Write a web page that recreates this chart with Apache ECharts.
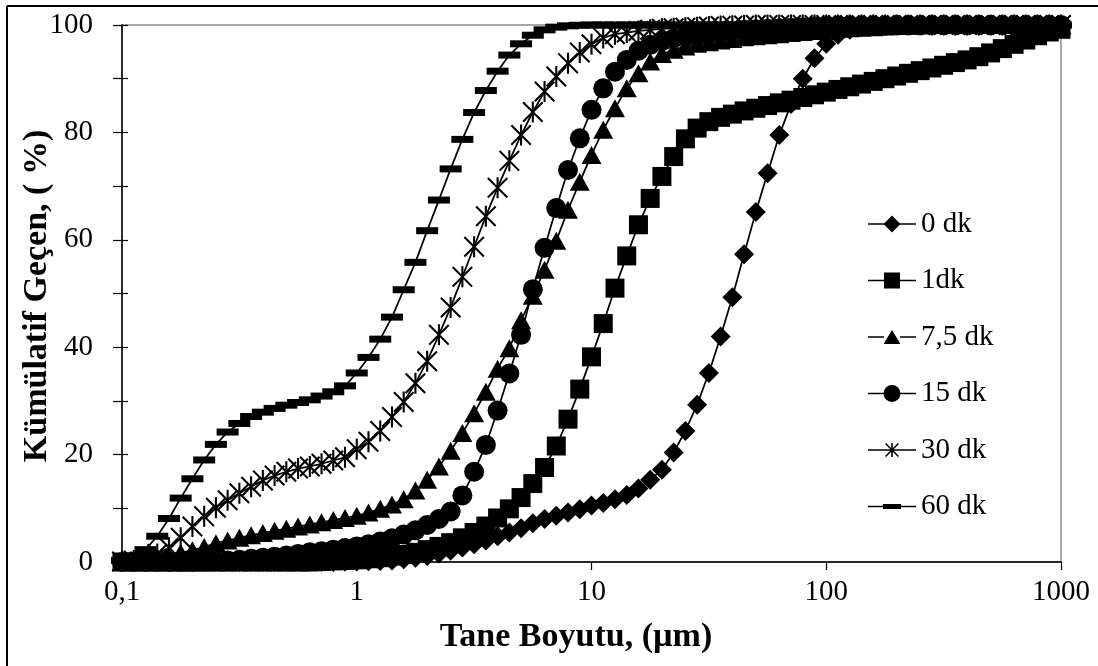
<!DOCTYPE html>
<html>
<head>
<meta charset="utf-8">
<title>Kümülatif Geçen</title>
<script src="https://cdn.jsdelivr.net/npm/echarts@6.0.0/dist/echarts.min.js"></script>
<style>
  html, body { margin: 0; padding: 0; background: #fff; }
  #chart { width: 1098px; height: 666px; }
</style>
</head>
<body>
<div id="chart"></div>
<script>
// Particle size classes (µm), 20 classes per decade
const sizes = [
  0.1, 0.1122, 0.1259, 0.1413, 0.1585, 0.1778, 0.1995, 0.2239, 0.2512, 0.2818,
  0.3162, 0.3548, 0.3981, 0.4467, 0.5012, 0.5623, 0.631, 0.7079, 0.7943, 0.8913,
  1, 1.122, 1.259, 1.413, 1.585, 1.778, 1.995, 2.239, 2.512, 2.818,
  3.162, 3.548, 3.981, 4.467, 5.012, 5.623, 6.31, 7.079, 7.943, 8.913,
  10, 11.22, 12.59, 14.13, 15.85, 17.78, 19.95, 22.39, 25.12, 28.18,
  31.62, 35.48, 39.81, 44.67, 50.12, 56.23, 63.1, 70.79, 79.43, 89.13,
  100, 112.2, 125.9, 141.3, 158.5, 177.8, 199.5, 223.9, 251.2, 281.8,
  316.2, 354.8, 398.1, 446.7, 501.2, 562.3, 631, 707.9, 794.3, 891.3,
  1000
];

// Cumulative passing (%) for each grinding time
const pass0 = [
  0, 0, 0, 0, 0, 0, 0, 0, 0, 0,
  0, 0, 0, 0, 0, 0, 0, 0, 0, 0.05,
  0.1, 0.15, 0.2, 0.3, 0.5, 0.8, 1.1, 1.6, 2.1, 2.7,
  3.3, 4.0, 4.8, 5.5, 6.3, 7.2, 8.0, 8.6, 9.2, 9.8,
  10.5, 11.0, 11.7, 12.5, 13.7, 15.3, 17.2, 20.4, 24.4, 29.3,
  35.2, 42.0, 49.3, 57.3, 65.2, 72.4, 79.5, 85.3, 90.0, 93.8,
  96.5, 98.2, 99.1, 99.6, 99.8, 99.9, 100, 100, 100, 100,
  100, 100, 100, 100, 100, 100, 100, 100, 100, 100,
  100
];
const pass1 = [
  0, 0, 0, 0, 0, 0, 0, 0, 0, 0,
  0, 0, 0, 0, 0, 0, 0, 0.1, 0.2, 0.3,
  0.4, 0.6, 0.8, 1.1, 1.4, 1.8, 2.3, 2.9, 3.6, 4.5,
  5.5, 6.7, 8.2, 9.9, 12.0, 14.6, 17.6, 21.6, 26.6, 32.2,
  38.2, 44.4, 51.0, 57.0, 62.8, 67.7, 71.8, 75.5, 78.8, 80.8,
  82.0, 82.8, 83.4, 84.0, 84.5, 85.0, 85.5, 86.0, 86.5, 87.0,
  87.5, 88.0, 88.5, 89.0, 89.5, 90.0, 90.5, 91.0, 91.5, 92.0,
  92.5, 93.0, 93.5, 94.1, 94.8, 95.6, 96.4, 97.2, 98.0, 98.7,
  99.2
];
const pass7 = [
  0.1, 0.3, 0.6, 0.9, 1.3, 1.7, 2.2, 2.8, 3.5, 4.0,
  4.5, 5.0, 5.4, 5.8, 6.2, 6.6, 7.0, 7.4, 7.8, 8.2,
  8.6, 9.2, 9.9, 10.7, 11.7, 13.3, 15.3, 17.8, 20.7, 24.0,
  27.7, 31.7, 36.0, 39.8, 45.0, 49.6, 54.4, 59.8, 65.6, 70.8,
  75.8, 80.5, 84.5, 88.2, 91.0, 93.2, 94.6, 95.4, 96.0, 96.5,
  96.8, 97.1, 97.4, 97.7, 97.9, 98.1, 98.3, 98.5, 98.7, 98.9,
  99.1, 99.3, 99.4, 99.5, 99.6, 99.7, 99.8, 99.85, 99.9, 100,
  100, 100, 100, 100, 100, 100, 100, 100, 100, 100,
  100
];
const pass15 = [
  0, 0, 0, 0, 0, 0, 0, 0.1, 0.2, 0.3,
  0.4, 0.6, 0.8, 1.0, 1.2, 1.5, 1.8, 2.0, 2.3, 2.6,
  2.9, 3.3, 3.8, 4.4, 5.1, 5.9, 6.9, 8.0, 9.4, 12.4,
  16.8, 21.8, 28.2, 35.1, 42.3, 50.8, 58.5, 65.9, 73.0, 78.9,
  84.2, 88.2, 91.3, 93.5, 95.2, 96.3, 97.0, 97.5, 97.9, 98.2,
  98.5, 98.7, 98.9, 99.1, 99.2, 99.3, 99.4, 99.5, 99.6, 99.7,
  99.8, 99.9, 99.9, 99.9, 99.9, 99.9, 100, 100, 100, 100,
  100, 100, 100, 100, 100, 100, 100, 100, 100, 100,
  100
];
const pass30 = [
  0.1, 0.3, 0.8, 1.5, 2.7, 4.5, 6.6, 8.5, 10.1, 11.5,
  12.8, 14.0, 15.2, 16.1, 16.8, 17.4, 17.8, 18.3, 18.9, 19.5,
  21.0, 22.4, 24.4, 27.0, 29.8, 33.3, 37.4, 42.3, 47.4, 53.1,
  58.7, 64.4, 69.7, 74.7, 79.5, 83.8, 87.6, 90.4, 92.9, 94.9,
  96.4, 97.6, 98.3, 98.6, 98.9, 99.1, 99.3, 99.4, 99.5, 99.6,
  99.7, 99.8, 99.85, 99.9, 100, 100, 100, 100, 100, 100,
  100, 100, 100, 100, 100, 100, 100, 100, 100, 100,
  100, 100, 100, 100, 100, 100, 100, 100, 100, 100,
  100
];
const pass60 = [
  0.3, 0.9, 2.3, 4.8, 8.1, 11.9, 15.5, 19.0, 21.9, 24.2,
  25.8, 27.1, 27.9, 28.6, 29.2, 29.7, 30.2, 30.9, 31.7, 32.8,
  35.2, 38.1, 41.5, 45.6, 50.7, 55.8, 61.7, 67.4, 73.2, 78.7,
  83.7, 87.8, 91.4, 94.4, 96.5, 98.1, 99.1, 99.6, 99.85, 99.95,
  100, 100, 100, 100, 100, 100, 100, 100, 100, 100,
  100, 100, 100, 100, 100, 100, 100, 100, 100, 100,
  100, 100, 100, 100, 100, 100, 100, 100, 100, 100,
  100, 100, 100, 100, 100, 100, 100, 100, 100, 100,
  100
];

const seriesNames = ['0 dk', '1dk', '7,5 dk', '15 dk', '30 dk', '60 dk'];
const seriesValues = [pass0, pass1, pass7, pass15, pass30, pass60];

const xTitle = 'Tane Boyutu, (µm)';
const yTitle = 'Kümülatif Geçen, ( %)';

// Six-armed star drawn as three filled bars (all wound the same way)
const asteriskPath = 'path://M45,0 L55,0 L55,100 L45,100 Z ' +
  'M0,7 L7,0 L100,93 L93,100 Z M93,0 L100,7 L7,100 L0,93 Z';

// Marker for each series in the plot
const markers = [
  { symbol: 'diamond', size: 20 },
  { symbol: 'rect', size: 19 },
  { symbol: 'triangle', size: [20, 18] },
  { symbol: 'circle', size: 20 },
  { symbol: asteriskPath, size: 21 },
  { symbol: 'rect', size: [22, 7] }
];

// Legend icons: short line with the marker in its middle (48 x 18 box)
const lineL = 'M0,8.2 L16,8.2 L16,9.8 L0,9.8 Z ';
const lineR = 'M32,8.2 L48,8.2 L48,9.8 L32,9.8 Z ';
const lineFull = 'M0,8.2 L48,8.2 L48,9.8 L0,9.8 Z ';
const legendIcons = [
  'path://' + lineL + lineR + 'M24,0.5 L32.5,9 L24,17.5 L15.5,9 Z',
  'path://' + lineL + lineR + 'M16,1 L32,1 L32,17 L16,17 Z',
  'path://' + lineL + lineR + 'M24,2 L32.5,16 L15.5,16 Z',
  'path://' + lineL + lineR + 'M24,0.5 A8.5,8.5 0 1 1 24,17.5 A8.5,8.5 0 1 1 24,0.5 Z',
  'path://' + lineFull + 'M23.2,2 L24.8,2 L24.8,16 L23.2,16 Z ' +
    'M17,3.1 L18.1,2 L31,14.9 L29.9,16 Z M29.9,2 L31,3.1 L18.1,16 L17,14.9 Z',
  'path://' + lineFull + 'M15,6.5 L33,6.5 L33,11.5 L15,11.5 Z'
];

const serifFont = '"Liberation Serif", "Times New Roman", serif';

const chart = echarts.init(document.getElementById('chart'), null, { renderer: 'canvas' });

const series = seriesNames.map((name, k) => ({
  name: name,
  type: 'line',
  xAxisIndex: 0,
  yAxisIndex: 0,
  data: sizes.map((d, i) => [d, seriesValues[k][i]]),
  symbol: markers[k].symbol,
  symbolSize: markers[k].size,
  showSymbol: true,
  showAllSymbol: true,
  clip: false,
  lineStyle: { color: '#000', width: 1.75 },
  itemStyle: { color: '#000', borderWidth: 0 },
  emphasis: { disabled: true },
  z: 2 + k
}));

chart.setOption({
  animation: false,
  backgroundColor: '#fff',
  grid: {
    left: 122, right: 37, top: 25, bottom: 104,
    show: true, borderColor: '#8a8a8a', borderWidth: 1.5,
    containLabel: false
  },
  xAxis: {
    type: 'log',
    logBase: 10,
    min: 0.1,
    max: 1000,
    axisLine: { show: true, lineStyle: { color: '#000', width: 1.5 } },
    axisTick: { show: true, length: 8, lineStyle: { color: '#000', width: 1.2 } },
    minorTick: { show: false },
    splitLine: { show: false },
    axisLabel: {
      margin: 16,
      color: '#000',
      fontFamily: serifFont,
      fontSize: 29,
      formatter: function (v) {
        return v < 1 ? v.toFixed(1).replace('.', ',') : String(Math.round(v));
      }
    }
  },
  yAxis: [
    {
      type: 'value',
      min: 0, max: 100, interval: 10,
      axisLine: { show: true, lineStyle: { color: '#000', width: 1.5 } },
      axisTick: { show: true, length: 9, lineStyle: { color: '#000', width: 1.2 } },
      splitLine: { show: false },
      axisLabel: {
        margin: 29,
        color: '#000',
        fontFamily: serifFont,
        fontSize: 29,
        formatter: function (v) { return v % 20 === 0 ? String(v) : ''; }
      }
    },
    {
      // inner half of the crossing tick marks
      type: 'value',
      position: 'left',
      min: 0, max: 100, interval: 10,
      axisLine: { show: false },
      axisTick: { show: true, inside: true, length: 6, lineStyle: { color: '#000', width: 1.2 } },
      axisLabel: { show: false },
      splitLine: { show: false }
    }
  ],
  legend: {
    orient: 'vertical',
    left: 868,
    top: 209,
    padding: 0,
    itemWidth: 48,
    itemHeight: 18,
    itemGap: 26.5,
    selectedMode: false,
    symbolKeepAspect: true,
    textStyle: {
      fontFamily: serifFont,
      fontSize: 29,
      lineHeight: 30,
      color: '#000'
    },
    data: seriesNames.map((n, k) => ({ name: n, icon: legendIcons[k], itemStyle: { color: '#000' } }))
  },
  graphic: [
    {
      type: 'line', silent: true,
      shape: { x1: 7, y1: 6, x2: 7, y2: 666 },
      style: { stroke: '#000', lineWidth: 2 }
    },
    {
      type: 'line', silent: true,
      shape: { x1: 7, y1: 6, x2: 1098, y2: 6 },
      style: { stroke: '#000', lineWidth: 2 }
    },
    {
      type: 'text', silent: true,
      x: 576, y: 637,
      style: {
        text: xTitle,
        fontFamily: serifFont, fontSize: 34, fontWeight: 'bold',
        fill: '#000', align: 'center', verticalAlign: 'middle'
      }
    },
    {
      type: 'text', silent: true,
      x: 37, y: 296,
      rotation: Math.PI / 2,
      style: {
        text: yTitle,
        fontFamily: serifFont, fontSize: 34, fontWeight: 'bold',
        fill: '#000', align: 'center', verticalAlign: 'middle'
      }
    }
  ],
  series: series
});
</script>
</body>
</html>
